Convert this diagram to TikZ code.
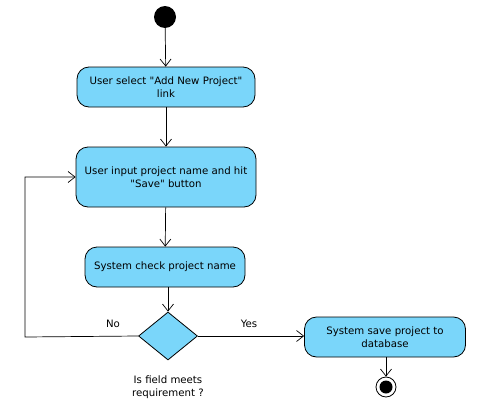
\documentclass[tikz,border=0pt]{standalone}
\usepackage{fontspec}
\newfontfamily\uifont{DejaVu Sans}
\usetikzlibrary{arrows.meta,shapes.geometric}
\definecolor{actfill}{RGB}{122,214,250}
\begin{document}
\begin{tikzpicture}[x=1pt,y=-1pt,
  act/.style={draw=black, fill=actfill, rounded corners=12pt, line width=0.8pt, align=center, inner sep=0pt, font=\uifont\fontsize{10.2}{13.5}\selectfont},
  flow/.style={draw=black, line width=0.7pt, -{Straight Barb[length=7pt,width=11pt]}},
  lbl/.style={font=\uifont\fontsize{10.2}{13.5}\selectfont, align=center, inner sep=0pt}]
\useasboundingbox (0,0) rectangle (479,415);
\node[circle, fill=black, minimum size=22pt, inner sep=0pt] (start) at (165,17) {};
\node[act, minimum width=178pt, minimum height=40pt] (b1) at (166,87) {User select "Add New Project"\\link};
\node[act, minimum width=180pt, minimum height=60pt] (b2) at (166,177) {User input project name and hit\\"Save" button};
\node[act, minimum width=160pt, minimum height=40pt] (b3) at (165,267) {System check project name};
\node[diamond, draw=black, fill=actfill, line width=0.8pt, minimum width=59pt, minimum height=48pt, inner sep=0pt] (d) at (168,336) {};
\node[act, minimum width=161pt, minimum height=40pt] (b4) at (385,337) {System save project to\\database};
\node[circle, draw=black, line width=0.8pt, fill=white, minimum size=20pt, inner sep=0pt] (end) at (386,387) {};
\node[circle, fill=black, minimum size=13pt, inner sep=0pt] (endin) at (end.center) {};
\node[lbl] (no) at (113,324) {No};
\node[lbl] (yes) at (249,324) {Yes};
\node[lbl] (cond) at (168,387) {Is field meets\\requirement ?};
\coordinate (c1) at (25,337);
\coordinate (c2) at (25,177);
\draw[flow] (start) -- (b1);
\draw[flow] (b1) -- (b2);
\draw[flow] (b2) -- (b3);
\draw[flow] (b3.south -| d.north) -- (d.north);
\draw[flow] (d.east) -- (b4.west |- d.east);
\draw[flow] (b4.south -| end.north) -- (end.north);
\draw[flow] (d.west) -- (c1) -- (c2) -- (b2.west);
\end{tikzpicture}
\end{document}
